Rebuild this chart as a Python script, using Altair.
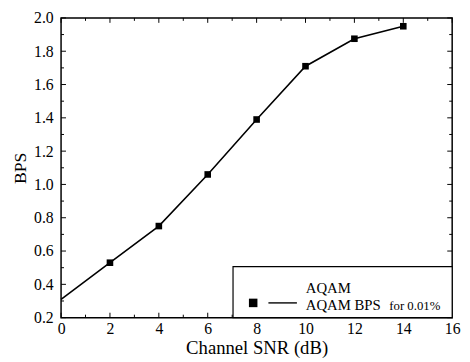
import altair as alt
import pandas as pd

# Data
snr = [0, 2, 4, 6, 8, 10, 12, 14]
bps = [0.31, 0.53, 0.75, 1.06, 1.39, 1.71, 1.875, 1.95]
marker_snr = [2, 4, 6, 8, 10, 12, 14]
marker_bps = [0.53, 0.75, 1.06, 1.39, 1.71, 1.875, 1.95]

x_major = [0, 2, 4, 6, 8, 10, 12, 14, 16]
x_minor = [1, 3, 5, 7, 9, 11, 13, 15]
y_major = [0.2, 0.4, 0.6, 0.8, 1.0, 1.2, 1.4, 1.6, 1.8, 2.0]
y_minor = [0.3, 0.5, 0.7, 0.9, 1.1, 1.3, 1.5, 1.7, 1.9]

legend_title = "AQAM"
legend_label = "AQAM BPS"
legend_suffix = "for 0.01%"

W, H = 398, 305
FONT = "Liberation Serif"

line_df = pd.DataFrame({"snr": snr, "bps": bps})
mark_df = pd.DataFrame({"snr": marker_snr, "bps": marker_bps})
xmaj = pd.DataFrame({"snr": x_major})
xmin = pd.DataFrame({"snr": x_minor})
ymaj = pd.DataFrame({"bps": y_major})
ymin = pd.DataFrame({"bps": y_minor})

xscale = alt.Scale(domain=[0, 16], nice=False, zero=False)
yscale = alt.Scale(domain=[0.2, 2.0], nice=False, zero=False)

common = dict(domain=False, ticks=False, grid=False, labelOverlap=False,
              labelFlush=False, labelFont=FONT, titleFont=FONT,
              labelFontSize=16, labelColor="black",
              titleColor="black", titleFontWeight="normal")
xaxis = alt.Axis(values=x_major, format="d", title="Channel SNR (dB)",
                 labelPadding=3, titlePadding=2, titleFontSize=19, **common)
yaxis = alt.Axis(values=y_major, format=".1f", title="BPS",
                 labelPadding=8, titlePadding=4, titleFontSize=18, **common)

X = alt.X("snr:Q", scale=xscale, axis=xaxis)
Y = alt.Y("bps:Q", scale=yscale, axis=yaxis)

line = alt.Chart(line_df).mark_line(color="black", strokeWidth=1.6).encode(x=X, y=Y)
points = alt.Chart(mark_df).mark_square(color="black", size=45, opacity=1).encode(x=X, y=Y)

def xticks(df, length):
    bottom = alt.Chart(df).mark_rule(color="black", strokeWidth=1).encode(
        x=X, y=alt.value(H), y2=alt.value(H - length))
    top = alt.Chart(df).mark_rule(color="black", strokeWidth=1).encode(
        x=X, y=alt.value(0), y2=alt.value(length))
    return [bottom, top]

def yticks(df, length):
    left = alt.Chart(df).mark_rule(color="black", strokeWidth=1).encode(
        y=Y, x=alt.value(0), x2=alt.value(length))
    right = alt.Chart(df).mark_rule(color="black", strokeWidth=1).encode(
        y=Y, x=alt.value(W), x2=alt.value(W - length))
    return [left, right]

ticks = xticks(xmaj, 5) + xticks(xmin, 3) + yticks(ymaj, 5) + yticks(ymin, 3)

leg_df = pd.DataFrame({"t": [legend_title], "l": [legend_label], "s": [legend_suffix]})
leg_box = alt.Chart(leg_df).mark_rect(fill="white", stroke="black", strokeWidth=1.2).encode(
    x=alt.value(175), x2=alt.value(W), y=alt.value(253), y2=alt.value(H))
leg_sq = alt.Chart(leg_df).mark_square(color="black", size=75, opacity=1).encode(
    x=alt.value(195.5), y=alt.value(290))
leg_line = alt.Chart(leg_df).mark_rule(color="black", strokeWidth=1.4).encode(
    x=alt.value(211), x2=alt.value(240), y=alt.value(290))
leg_title = alt.Chart(leg_df).mark_text(align="left", baseline="alphabetic", font=FONT,
                                        fontSize=15, color="black").encode(
    x=alt.value(249), y=alt.value(280), text="t:N")
leg_label = alt.Chart(leg_df).mark_text(align="left", baseline="alphabetic", font=FONT,
                                        fontSize=15, color="black").encode(
    x=alt.value(249), y=alt.value(297), text="l:N")
leg_suffix = alt.Chart(leg_df).mark_text(align="left", baseline="alphabetic", font=FONT,
                                         fontSize=13, color="black").encode(
    x=alt.value(334), y=alt.value(297), text="s:N")

chart = alt.layer(line, points, *ticks, leg_box, leg_sq, leg_line, leg_title,
                  leg_label, leg_suffix).properties(
    width=W, height=H,
    autosize=alt.AutoSizeParams(type="none"),
    padding={"left": 54, "top": 7, "right": 10, "bottom": 40},
    background="white",
).configure_view(stroke="black", strokeWidth=1.5)

chart.save("out.html", embed_options={"renderer": "svg", "actions": False})
